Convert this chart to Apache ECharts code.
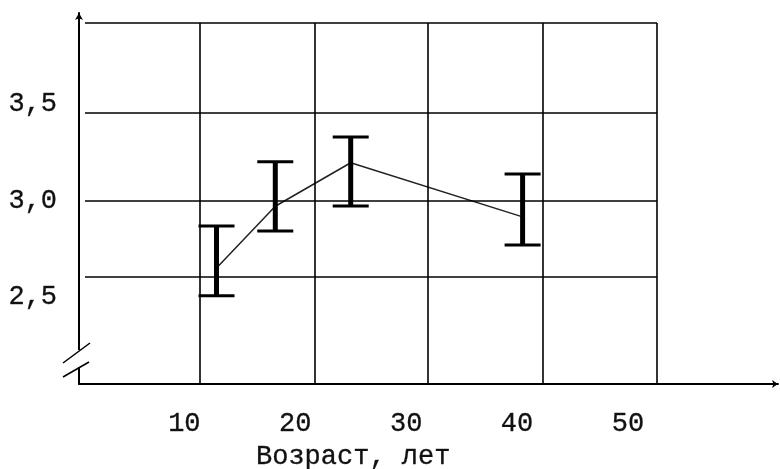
<!DOCTYPE html>
<html><head><meta charset="utf-8">
<script src="https://cdn.jsdelivr.net/npm/echarts@6/dist/echarts.min.js"></script>
<style>html,body{margin:0;padding:0;background:#fff}#c{width:780px;height:469px}</style>
</head><body><div id="c"></div>
<script>
// data
const ages = [12.9, 18.2, 25.0, 40.5];
const means = [2.65, 2.97, 3.195, 2.915];
const lower = [2.507, 2.842, 2.971, 2.769];
const upper = [2.868, 3.20, 3.328, 3.137];
const xTicks = [10, 20, 30, 40, 50];
const yTicks = [2.5, 3.0, 3.5];
const gridAges = [11.37, 21.78, 31.97, 42.34, 52.62];
const gridLevels = [2.604, 3.0, 3.452, 3.918];
const gridAgeStart = 1.04;
const axisTitle = 'Возраст, лет';

const X_MIN = 0.5, X_MAX = 63.53, Y_MIN = 2.05, Y_MAX = 3.97;
const FONT = 'Liberation Mono';

const chart = echarts.init(document.getElementById('c'), null, {renderer: 'canvas'});

const gridLines = [];
gridLevels.forEach(v => gridLines.push([{coord: [gridAgeStart, v]}, {coord: [gridAges[gridAges.length - 1], v]}]));
const topLevel = gridLevels[gridLevels.length - 1];
gridAges.forEach(a => gridLines.push([{coord: [a, Y_MIN]}, {coord: [a, topLevel]}]));

const textBold = {textBorderColor: '#333', textBorderWidth: 0.35};

const option = {
  animation: false,
  backgroundColor: '#fff',
  title: {
    text: axisTitle, left: 251, top: 438,
    textStyle: Object.assign({fontFamily: FONT, fontSize: 27, fontWeight: 'normal', color: '#111'}, textBold)
  },
  grid: {left: 79, right: 2, top: 13, bottom: 85, containLabel: false, outerBoundsMode: 'none'},
  xAxis: {
    type: 'value', min: X_MIN, max: X_MAX,
    splitLine: {show: false}, axisTick: {show: false},
    axisLine: {show: true, onZero: false, lineStyle: {color: '#000', width: 2}, symbol: ['none', 'arrow'], symbolSize: [6, 6]},
    axisLabel: Object.assign({customValues: xTicks, margin: 26, fontFamily: FONT, fontSize: 27, color: '#111'}, textBold)
  },
  yAxis: {
    type: 'value', min: Y_MIN, max: Y_MAX,
    splitLine: {show: false}, axisTick: {show: false},
    axisLine: {show: true, onZero: false, lineStyle: {color: '#000', width: 2}, symbol: ['none', 'arrow'], symbolSize: [6, 7]},
    axisLabel: Object.assign({customValues: yTicks, margin: 22, fontFamily: FONT, fontSize: 27, color: '#111',
      formatter: v => v.toFixed(1).replace('.', ',')}, textBold)
  },
  series: [
    {
      type: 'line', data: ages.map((a, i) => [a, means[i]]),
      symbol: 'none', lineStyle: {color: '#222', width: 1.5}, z: 2,
      markLine: {silent: true, symbol: 'none', label: {show: false},
        lineStyle: {type: 'solid', color: '#000', width: 1.6}, data: gridLines}
    },
    {
      type: 'custom', z: 3,
      data: ages.map((a, i) => [a, lower[i], upper[i]]),
      renderItem: (params, api) => {
        const x = api.value(0);
        const lo = api.coord([x, api.value(1)]);
        const hi = api.coord([x, api.value(2)]);
        const hw = 18;
        return {type: 'group', children: [
          {type: 'line', shape: {x1: lo[0], y1: lo[1], x2: hi[0], y2: hi[1]}, style: {stroke: '#000', lineWidth: 5}},
          {type: 'line', shape: {x1: lo[0] - hw, y1: lo[1], x2: lo[0] + hw, y2: lo[1]}, style: {stroke: '#000', lineWidth: 3}},
          {type: 'line', shape: {x1: hi[0] - hw, y1: hi[1], x2: hi[0] + hw, y2: hi[1]}, style: {stroke: '#000', lineWidth: 3}}
        ]};
      }
    }
  ],
  graphic: [
    {type: 'rect', shape: {x: 75, y: 350, width: 8, height: 17}, style: {fill: '#fff'}, z: 100},
    {type: 'line', shape: {x1: 63, y1: 363, x2: 90, y2: 343}, style: {stroke: '#000', lineWidth: 1.5}, z: 101},
    {type: 'line', shape: {x1: 63, y1: 377, x2: 89, y2: 362}, style: {stroke: '#000', lineWidth: 1.5}, z: 101}
  ]
};
chart.setOption(option);
</script>
</body></html>
